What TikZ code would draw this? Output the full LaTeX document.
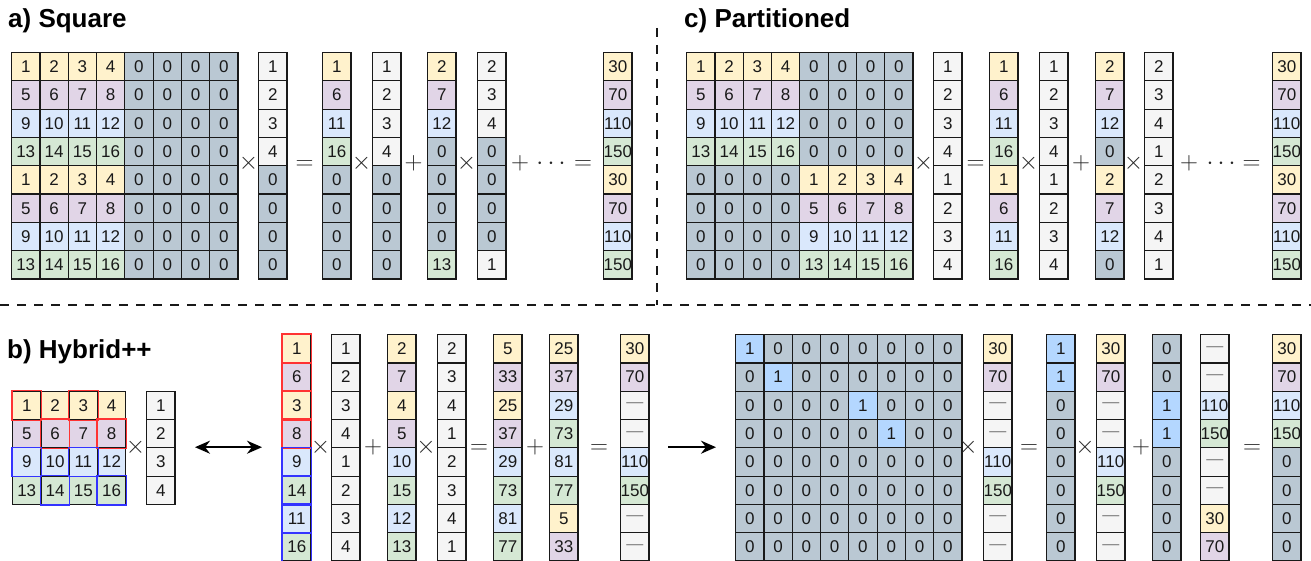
\documentclass[tikz,border=0pt]{standalone}
\usepackage{fontspec}
\setmainfont{Liberation Sans}
\usetikzlibrary{arrows.meta}
\definecolor{cY}{HTML}{FFF2CC}
\definecolor{cP}{HTML}{E1D5E7}
\definecolor{cB}{HTML}{DAE8FC}
\definecolor{cG}{HTML}{D5E8D4}
\definecolor{cZ}{HTML}{BAC8D3}
\definecolor{cW}{HTML}{F5F5F5}
\definecolor{cL}{HTML}{B4D7FF}
\definecolor{redb}{HTML}{FF3333}
\definecolor{blueb}{HTML}{3333FF}
\newcommand\cellsz{28.3}
\newcommand\dsh{\textcolor{black!50}{—}}
\newcommand\hrow[5]{\foreach \cf/\ct [count=\j] in #5 {\node[cell,fill=\cf] (#1-#4-\j) at ({#2+(\j-1)*\cellsz},{#3+(#4-1)*\cellsz}) {\ct};}}
\newcommand\vcol[4]{\foreach \cf/\ct [count=\i] in {#4} {\node[cell,fill=\cf] (#1-\i) at (#2,{#3+(\i-1)*\cellsz}) {\ct};}}
\def\rowA{cY/1,cY/2,cY/3,cY/4,cZ/0,cZ/0,cZ/0,cZ/0}
\def\rowB{cP/5,cP/6,cP/7,cP/8,cZ/0,cZ/0,cZ/0,cZ/0}
\def\rowC{cB/9,cB/10,cB/11,cB/12,cZ/0,cZ/0,cZ/0,cZ/0}
\def\rowD{cG/13,cG/14,cG/15,cG/16,cZ/0,cZ/0,cZ/0,cZ/0}
\def\rowE{cZ/0,cZ/0,cZ/0,cZ/0,cY/1,cY/2,cY/3,cY/4}
\def\rowF{cZ/0,cZ/0,cZ/0,cZ/0,cP/5,cP/6,cP/7,cP/8}
\def\rowG{cZ/0,cZ/0,cZ/0,cZ/0,cB/9,cB/10,cB/11,cB/12}
\def\rowH{cZ/0,cZ/0,cZ/0,cZ/0,cG/13,cG/14,cG/15,cG/16}
\def\smA{cY/1,cY/2,cY/3,cY/4}
\def\smB{cP/5,cP/6,cP/7,cP/8}
\def\smC{cB/9,cB/10,cB/11,cB/12}
\def\smD{cG/13,cG/14,cG/15,cG/16}
\def\bgA{cL/1,cZ/0,cZ/0,cZ/0,cZ/0,cZ/0,cZ/0,cZ/0}
\def\bgB{cZ/0,cL/1,cZ/0,cZ/0,cZ/0,cZ/0,cZ/0,cZ/0}
\def\bgC{cZ/0,cZ/0,cZ/0,cZ/0,cL/1,cZ/0,cZ/0,cZ/0}
\def\bgD{cZ/0,cZ/0,cZ/0,cZ/0,cZ/0,cL/1,cZ/0,cZ/0}
\def\bgE{cZ/0,cZ/0,cZ/0,cZ/0,cZ/0,cZ/0,cZ/0,cZ/0}
\tikzset{
  cell/.style={draw=black!90, line width=1.2pt, minimum width=\cellsz pt, minimum height=\cellsz pt,
    inner sep=0pt, anchor=north west, font=\fontsize{17}{19}\selectfont, text=black!90},
  op/.style={anchor=base, inner sep=0pt, font=\fontsize{24}{24}\selectfont, text=black!85},
  ttl/.style={anchor=base west, inner sep=0pt, font=\fontsize{26}{30}\selectfont\bfseries},
  sep/.style={line width=2.5pt, dash pattern=on 9pt off 8pt, black!90},
  big arrow/.style={line width=2pt, black}
}
\begin{document}
\begin{tikzpicture}[x=1pt,y=-1pt]
\useasboundingbox (0,0) rectangle (1311,561);
% separators
\coordinate (h1) at (0,305); \coordinate (h2) at (1311,305);
\coordinate (v1) at (657,28); \coordinate (v2) at (657,305);
\draw[sep] (h1) -- (h2);
\draw[sep] (v1) -- (v2);
% titles
\node[ttl] (ta) at (8,28) {a) Square};
\node[ttl] (tc) at (684,28) {c) Partitioned};
\node[ttl] (tb) at (7,358) {b) Hybrid++};
% ===== a) Square =====
\hrow{am}{11}{52}{1}{\rowA}
\hrow{am}{11}{52}{2}{\rowB}
\hrow{am}{11}{52}{3}{\rowC}
\hrow{am}{11}{52}{4}{\rowD}
\hrow{am}{11}{52}{5}{\rowA}
\hrow{am}{11}{52}{6}{\rowB}
\hrow{am}{11}{52}{7}{\rowC}
\hrow{am}{11}{52}{8}{\rowD}
\vcol{av}{258}{52}{cW/1,cW/2,cW/3,cW/4,cZ/0,cZ/0,cZ/0,cZ/0}
\vcol{a1}{322}{52}{cY/1,cP/6,cB/11,cG/16,cZ/0,cZ/0,cZ/0,cZ/0}
\vcol{a2}{372}{52}{cW/1,cW/2,cW/3,cW/4,cZ/0,cZ/0,cZ/0,cZ/0}
\vcol{a3}{427}{52}{cY/2,cP/7,cB/12,cZ/0,cZ/0,cZ/0,cZ/0,cG/13}
\vcol{a4}{477}{52}{cW/2,cW/3,cW/4,cZ/0,cZ/0,cZ/0,cZ/0,cW/1}
\vcol{ar}{603}{52}{cY/30,cP/70,cB/110,cG/150,cY/30,cP/70,cB/110,cG/150}
\node[op] (ao1) at (248.5,170) {$\times$};
\node[op] (ao2) at (304.5,170) {$=$};
\node[op] (ao3) at (361.5,170) {$\times$};
\node[op] (ao4) at (413.5,170) {$+$};
\node[op] (ao5) at (466.5,170) {$\times$};
\node[op] (ao6) at (520,170) {$+$};
\node[op] (ao7) at (551,170) {$\cdots$};
\node[op] (ao8) at (583,170) {$=$};
% ===== c) Partitioned =====
\hrow{cm}{686}{52}{1}{\rowA}
\hrow{cm}{686}{52}{2}{\rowB}
\hrow{cm}{686}{52}{3}{\rowC}
\hrow{cm}{686}{52}{4}{\rowD}
\hrow{cm}{686}{52}{5}{\rowE}
\hrow{cm}{686}{52}{6}{\rowF}
\hrow{cm}{686}{52}{7}{\rowG}
\hrow{cm}{686}{52}{8}{\rowH}
\vcol{cv}{933}{52}{cW/1,cW/2,cW/3,cW/4,cW/1,cW/2,cW/3,cW/4}
\vcol{c1}{989}{52}{cY/1,cP/6,cB/11,cG/16,cY/1,cP/6,cB/11,cG/16}
\vcol{c2}{1039}{52}{cW/1,cW/2,cW/3,cW/4,cW/1,cW/2,cW/3,cW/4}
\vcol{c3}{1095}{52}{cY/2,cP/7,cB/12,cZ/0,cY/2,cP/7,cB/12,cZ/0}
\vcol{c4}{1144}{52}{cW/2,cW/3,cW/4,cW/1,cW/2,cW/3,cW/4,cW/1}
\vcol{cr}{1272}{52}{cY/30,cP/70,cB/110,cG/150,cY/30,cP/70,cB/110,cG/150}
\node[op] (co1) at (923.5,170) {$\times$};
\node[op] (co2) at (975.5,170) {$=$};
\node[op] (co3) at (1028.5,170) {$\times$};
\node[op] (co4) at (1081,170) {$+$};
\node[op] (co5) at (1133.5,170) {$\times$};
\node[op] (co6) at (1189,170) {$+$};
\node[op] (co7) at (1221,170) {$\cdots$};
\node[op] (co8) at (1251.5,170) {$=$};
% ===== b) Hybrid++ =====
\hrow{hm}{12}{390.6}{1}{\smA}
\hrow{hm}{12}{390.6}{2}{\smB}
\hrow{hm}{12}{390.6}{3}{\smC}
\hrow{hm}{12}{390.6}{4}{\smD}
\foreach \n in {hm-1-1,hm-1-3,hm-2-2,hm-2-4}
  \draw[redb,line width=1.2pt] (\n.north west) rectangle (\n.south east);
\foreach \n in {hm-3-1,hm-3-3,hm-4-2,hm-4-4}
  \draw[blueb,line width=1.2pt] (\n.north west) rectangle (\n.south east);
\vcol{hv}{146}{390.6}{cW/1,cW/2,cW/3,cW/4}
\node[op] (bo0) at (135.5,453) {$\times$};
\coordinate (dl) at (195,447.2); \coordinate (dr) at (262,447.2);
\draw[big arrow,{Stealth[length=15pt,width=13pt]}-{Stealth[length=15pt,width=13pt]}] (dl) -- (dr);
\vcol{b1}{282}{334}{cY/1,cP/6,cY/3,cP/8,cB/9,cG/14,cB/11,cG/16}
\foreach \k in {1,2,3,4}
  \draw[redb,line width=1.2pt] (b1-\k.north west) rectangle (b1-\k.south east);
\foreach \k in {5,6,7,8}
  \draw[blueb,line width=1.2pt] (b1-\k.north west) rectangle (b1-\k.south east);
\vcol{b2}{331}{334}{cW/1,cW/2,cW/3,cW/4,cW/1,cW/2,cW/3,cW/4}
\vcol{b3}{387}{334}{cY/2,cP/7,cY/4,cP/5,cB/10,cG/15,cB/12,cG/13}
\begin{scope}[every node/.append style={text=black!65}]
\vcol{b4}{437}{334}{cW/2,cW/3,cW/4,cW/1,cW/2,cW/3,cW/4,cW/1}
\end{scope}
\vcol{b5}{493}{334}{cY/5,cP/33,cY/25,cP/37,cB/29,cG/73,cB/81,cG/77}
\vcol{b6}{549}{334}{cY/25,cP/37,cB/29,cG/73,cB/81,cG/77,cY/5,cP/33}
\vcol{b7}{620}{334}{cY/30,cP/70,cW/\dsh,cW/\dsh,cB/110,cG/150,cW/\dsh,cW/\dsh}
\node[op] (bo1) at (320.5,453) {$\times$};
\node[op] (bo2) at (373,453) {$+$};
\node[op] (bo3) at (426,453) {$\times$};
\node[op] (bo4) at (479,453) {$=$};
\node[op] (bo5) at (535,453) {$+$};
\node[op] (bo6) at (599,453) {$=$};
\coordinate (al) at (668,447.2); \coordinate (ar2) at (716,447.2);
\draw[big arrow,-{Stealth[length=15pt,width=13pt]}] (al) -- (ar2);
\hrow{bm}{735}{334}{1}{\bgA}
\hrow{bm}{735}{334}{2}{\bgB}
\hrow{bm}{735}{334}{3}{\bgC}
\hrow{bm}{735}{334}{4}{\bgD}
\hrow{bm}{735}{334}{5}{\bgE}
\hrow{bm}{735}{334}{6}{\bgE}
\hrow{bm}{735}{334}{7}{\bgE}
\hrow{bm}{735}{334}{8}{\bgE}
\vcol{bv}{983}{334}{cY/30,cP/70,cW/\dsh,cW/\dsh,cB/110,cG/150,cW/\dsh,cW/\dsh}
\vcol{b8}{1046}{334}{cL/1,cL/1,cZ/0,cZ/0,cZ/0,cZ/0,cZ/0,cZ/0}
\vcol{b9}{1096}{334}{cY/30,cP/70,cW/\dsh,cW/\dsh,cB/110,cG/150,cW/\dsh,cW/\dsh}
\vcol{b10}{1152}{334}{cZ/0,cZ/0,cL/1,cL/1,cZ/0,cZ/0,cZ/0,cZ/0}
\vcol{b11}{1200}{334}{cW/\dsh,cW/\dsh,cB/110,cG/150,cW/\dsh,cW/\dsh,cY/30,cP/70}
\vcol{br}{1272}{334}{cY/30,cP/70,cB/110,cG/150,cZ/0,cZ/0,cZ/0,cZ/0}
\node[op] (bo7) at (968,453) {$\times$};
\node[op] (bo8) at (1029,453) {$=$};
\node[op] (bo9) at (1085,453) {$\times$};
\node[op] (bo10) at (1141,453) {$+$};
\node[op] (bo11) at (1252,453) {$=$};
\end{tikzpicture}
\end{document}
